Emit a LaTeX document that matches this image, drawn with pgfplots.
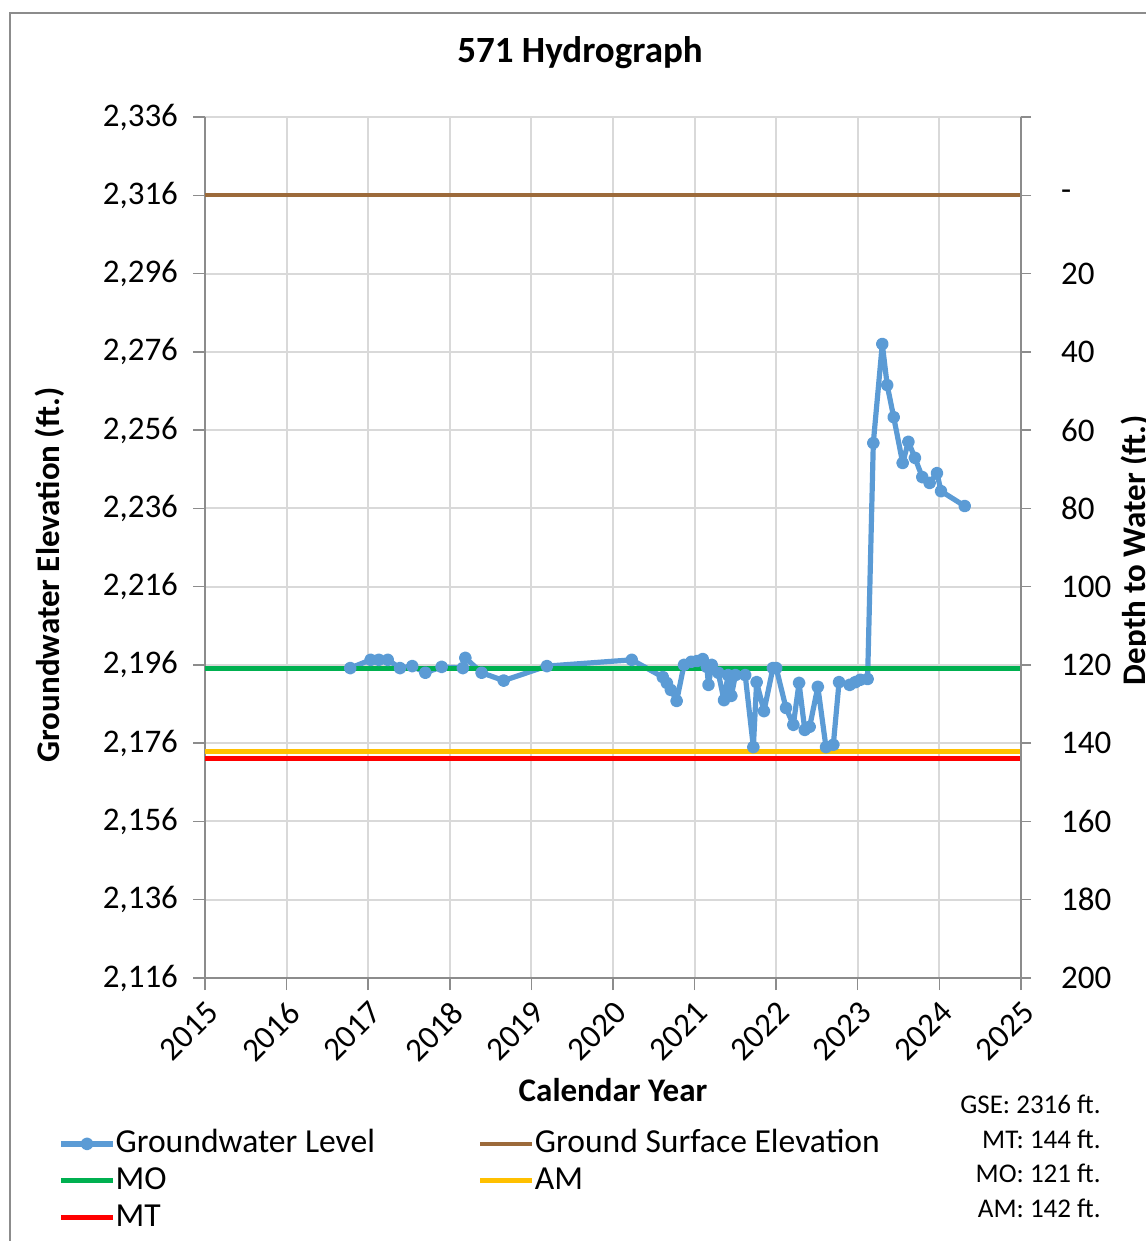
\documentclass[border=0pt]{standalone}
\usepackage{pgfplots}
\pgfplotsset{compat=1.18}
\usepackage{fontspec}
\setmainfont{Carlito}
\definecolor{gwblue}{HTML}{5B9BD5}
\definecolor{gsebrown}{HTML}{9C6A3A}
\definecolor{mogreen}{HTML}{00B050}
\definecolor{amyellow}{HTML}{FFC000}
\definecolor{mtred}{HTML}{FF0000}
\definecolor{gridgray}{HTML}{D9D9D9}
\definecolor{axgray}{HTML}{8C8C8C}
\newcommand{\tickfont}{\fontsize{16.5}{19}\selectfont}
\begin{document}
\begin{tikzpicture}
\path[use as bounding box] (0pt,0pt) rectangle (572.5pt,-620.5pt);
\draw[axgray, line width=1pt] (4.75pt,-640pt) -- (4.75pt,-6.5pt) -- (590pt,-6.5pt);
\node[font=\bfseries\fontsize{18.5}{22}\selectfont] at (290pt,-26.5pt) {571 Hydrograph};

\begin{axis}[
  at={(102.5pt,-489pt)}, anchor=south west,
  width=408pt, height=430.5pt, scale only axis,
  xmin=2015, xmax=2025, ymin=2116, ymax=2336,
  xtick={2015,...,2025}, ytick={2116,2136,...,2336},
  scaled ticks=false,
  axis x line*=bottom, axis y line*=left,
  grid=major, grid style={gridgray, line width=1pt},
  axis line style={axgray, line width=0.75pt},
  tick style={axgray, line width=0.75pt},
  tick align=outside, major tick length=6pt,
  /pgf/number format/assume math mode=true,
  ticklabel style={font=\tickfont},
  xticklabel style={rotate=45, anchor=north east, /pgf/number format/1000 sep={}},
  yticklabel style={/pgf/number format/1000 sep={,}, xshift=-4pt},
  xlabel={Calendar Year},
  every axis x label/.style={at={(axis description cs:0.5,-0.130)}, anchor=center, font=\bfseries\tickfont},
  ylabel={Groundwater Elevation (ft.)},
  every axis y label/.style={at={(axis description cs:-0.19,0.468)}, rotate=90, anchor=center, font=\bfseries\tickfont},
  legend columns=2,
  legend cell align=left,
  legend style={at={(axis description cs:-0.1801,-0.1742)}, anchor=north west, draw=none, fill=none,
    font=\fontsize{16.8}{19}\selectfont, inner sep=0pt, row sep=3pt,
    nodes={inner sep=0pt, text height=12pt, text depth=3.5pt},
    /tikz/every even column/.append style={column sep=51.5pt}},
  legend image code/.code={\draw[mark repeat=2,mark phase=2,#1] plot coordinates {(0pt,0pt) (13pt,0pt) (26pt,0pt)};},
]
\addplot[gwblue, line width=2.6pt, line join=round, mark=*, mark size=1.9pt, mark options={solid, fill=gwblue, draw=gwblue}] coordinates {
(2016.78,2195.2) (2017.03,2197.3) (2017.13,2197.3) (2017.24,2197.3) (2017.39,2195.2)
(2017.54,2195.7) (2017.70,2194.0) (2017.90,2195.5) (2018.16,2195.2) (2018.19,2197.8)
(2018.39,2194.0) (2018.66,2192.0) (2019.19,2195.7) (2020.23,2197.3) (2020.61,2192.9)
(2020.66,2191.4) (2020.71,2189.6) (2020.78,2186.8) (2020.87,2196.0) (2020.96,2196.8)
(2021.03,2197.0) (2021.10,2197.5) (2021.15,2195.5) (2021.17,2190.9) (2021.21,2196.0)
(2021.29,2194.0) (2021.36,2187.0) (2021.41,2193.4) (2021.45,2188.1) (2021.50,2193.4)
(2021.62,2193.4) (2021.72,2175.0) (2021.76,2191.6) (2021.85,2184.2) (2021.96,2195.2)
(2022.00,2195.2) (2022.12,2185.0) (2022.21,2180.7) (2022.28,2191.4) (2022.35,2179.4)
(2022.41,2180.2) (2022.51,2190.4) (2022.61,2175.0) (2022.70,2175.6) (2022.77,2191.6)
(2022.90,2190.9) (2022.97,2191.6) (2023.03,2192.2) (2023.12,2192.4) (2023.19,2252.7)
(2023.30,2278.0) (2023.36,2267.5) (2023.44,2259.3) (2023.55,2247.6) (2023.62,2253.0)
(2023.70,2248.9) (2023.79,2244.0) (2023.88,2242.5) (2023.97,2245.0) (2024.02,2240.4)
(2024.31,2236.6)
};
\addlegendentry{Groundwater Level}
\addplot[gsebrown, line width=2pt] coordinates {(2015,2316) (2025,2316)};
\addlegendentry{Ground Surface Elevation}
\addplot[mogreen, line width=2.5pt] coordinates {(2015,2195) (2025,2195)};
\addlegendentry{MO}
\addplot[amyellow, line width=2.5pt] coordinates {(2015,2174) (2025,2174)};
\addlegendentry{AM}
\addplot[mtred, line width=2.5pt] coordinates {(2015,2172) (2025,2172)};
\addlegendentry{MT}
\end{axis}

\begin{axis}[
  at={(102.5pt,-489pt)}, anchor=south west,
  width=408pt, height=430.5pt, scale only axis,
  xmin=2015, xmax=2025, ymin=2116, ymax=2336,
  axis x line=none, axis y line*=right,
  ytick={2116,2136,...,2336},
  yticklabels={200,180,160,140,120,100,80,60,40,20,-,{}},
  axis line style={axgray, line width=0.75pt},
  tick style={axgray, line width=0.75pt},
  tick align=outside, major tick length=5pt,
  ticklabel style={font=\tickfont},
  yticklabel style={xshift=11.5pt},
  ylabel={Depth to Water (ft.)},
  every axis y label/.style={at={(axis description cs:1.141,0.497)}, rotate=90, anchor=center, font=\bfseries\tickfont},
]
\addplot[draw=none] coordinates {(2015,2116)};
\end{axis}

\node[font=\fontsize{13.5}{16}\selectfont, anchor=base east, inner sep=0pt] at (550.5pt,-556.75pt) {GSE: 2316 ft.};
\node[font=\fontsize{13.5}{16}\selectfont, anchor=base east, inner sep=0pt] at (550.5pt,-574.25pt) {MT: 144 ft.};
\node[font=\fontsize{13.5}{16}\selectfont, anchor=base east, inner sep=0pt] at (550.5pt,-591.25pt) {MO: 121 ft.};
\node[font=\fontsize{13.5}{16}\selectfont, anchor=base east, inner sep=0pt] at (550.5pt,-608.75pt) {AM: 142 ft.};
\end{tikzpicture}
\end{document}
